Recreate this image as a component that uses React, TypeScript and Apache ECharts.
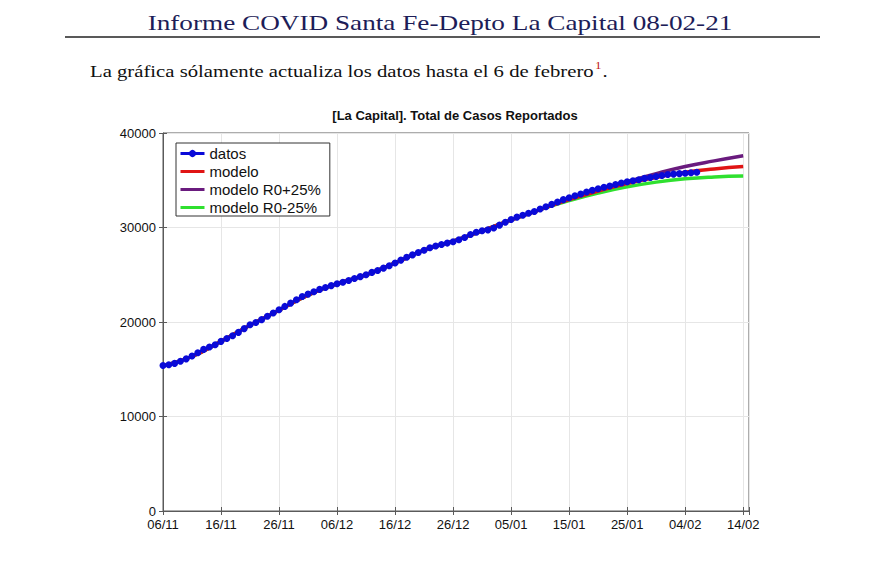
import React, { useEffect, useRef } from 'react';
import * as echarts from 'echarts';

const headerTitle = 'Informe COVID Santa Fe-Depto La Capital 08-02-21';
const subtitleText = 'La gráfica sólamente actualiza los datos hasta el 6 de febrero';
const chartTitle = '[La Capital]. Total de Casos Reportados';

const xTickLabels = ['06/11', '16/11', '26/11', '06/12', '16/12', '26/12', '05/01', '15/01', '25/01', '04/02', '14/02'];
const seriesNames = ['datos', 'modelo', 'modelo R0+25%', 'modelo R0-25%'];

// daily reported totals, day 0 = 06/11
const datos = [
  15400, 15480, 15620, 15850, 16100, 16400, 16750, 17100, 17350, 17600,
  17950, 18250, 18550, 18900, 19300, 19700, 19950, 20250, 20600, 20950,
  21300, 21650, 22000, 22350, 22700, 22950, 23200, 23450, 23650, 23850,
  24050, 24200, 24400, 24600, 24800, 25000, 25250, 25450, 25700, 25950,
  26250, 26550, 26850, 27100, 27350, 27600, 27850, 28050, 28200, 28350,
  28500, 28700, 28950, 29250, 29500, 29650, 29750, 29950, 30250, 30550,
  30850, 31100, 31300, 31500, 31700, 31950, 32200, 32450, 32700, 32950,
  33150, 33350, 33550, 33750, 33950, 34100, 34250, 34400, 34550, 34700,
  34850, 34950, 35050, 35200, 35300, 35400, 35500, 35600, 35650, 35700,
  35750, 35800, 35850,
];

const modelDays = [0, 5, 10, 15, 20, 25, 30, 35, 40, 45, 50, 55, 60, 65, 70, 75, 80, 85, 90, 95, 100];
const modelo = [15350, 16350, 17950, 19650, 21250, 22850, 24050, 25000, 26250, 27600, 28550, 29650, 30800, 31900, 32950, 33850, 34650, 35300, 35850, 36200, 36450];
const modeloPlus = [15350, 16350, 17950, 19650, 21250, 22850, 24050, 25000, 26250, 27600, 28550, 29650, 30800, 31900, 33000, 33950, 34850, 35700, 36450, 37050, 37600];
const modeloMinus = [15350, 16350, 17950, 19650, 21250, 22850, 24050, 25000, 26250, 27600, 28550, 29650, 30800, 31900, 32850, 33650, 34300, 34800, 35150, 35350, 35450];

function measure(text: string, font: string): number {
  const c = document.createElement('canvas');
  const ctx = c.getContext('2d');
  if (!ctx) return text.length * 8;
  ctx.font = font;
  return ctx.measureText(text).width;
}

export default function App() {
  const ref = useRef<HTMLDivElement>(null);

  useEffect(() => {
    if (!ref.current) return;
    const chart = echarts.init(ref.current, undefined, { renderer: 'svg' });

    const serif = '"Liberation Serif", "Times New Roman", serif';
    const sans = '"Liberation Sans", Arial, Helvetica, sans-serif';

    const titleFont = `21px ${serif}`;
    const titleW = measure(headerTitle, titleFont);
    const titleScale = 585 / titleW;

    const subFont = `16px ${serif}`;
    const subW = measure(subtitleText, subFont);
    const supW = measure('1', `10px ${serif}`);
    const dotW = measure('.', subFont);
    const subTarget = 517;
    const subScale = subTarget / (subW + supW + dotW + 1);

    const subX = 90;
    const supX = subX + subW * subScale + 1;
    const dotX = supX + supW * subScale + 1;

    const toPairs = (days: number[], vals: number[]) => days.map((d, i) => [d, vals[i]]);

    const axisColor = '#5a5a5a';
    const gridColor = '#e6e6e6';

    chart.setOption({
      animation: false,
      backgroundColor: '#ffffff',
      textStyle: { fontFamily: sans },
      graphic: [
        {
          type: 'text',
          x: 440,
          y: 23,
          scaleX: titleScale,
          style: {
            text: headerTitle,
            font: titleFont,
            fill: '#1d1d58',
            align: 'center',
            verticalAlign: 'middle',
          },
        },
        {
          type: 'line',
          shape: { x1: 65, y1: 37, x2: 820, y2: 37 },
          style: { stroke: '#222', lineWidth: 1.5 },
        },
        {
          type: 'text',
          x: subX,
          y: 72,
          scaleX: subScale,
          style: { text: subtitleText, font: subFont, fill: '#111', align: 'left', verticalAlign: 'middle' },
        },
        {
          type: 'text',
          x: supX,
          y: 66,
          scaleX: subScale,
          style: { text: '1', font: `10px ${serif}`, fill: '#c01818', align: 'left', verticalAlign: 'middle' },
        },
        {
          type: 'text',
          x: dotX,
          y: 72,
          scaleX: subScale,
          style: { text: '.', font: subFont, fill: '#111', align: 'left', verticalAlign: 'middle' },
        },
        {
          type: 'text',
          x: 455,
          y: 115,
          style: {
            text: chartTitle,
            font: `bold 13px ${sans}`,
            fill: '#111',
            align: 'center',
            verticalAlign: 'middle',
          },
        },
      ],
      legend: {
        orient: 'vertical',
        left: 176,
        top: 143,
        data: [
          { name: seriesNames[0] },
          { name: seriesNames[1], itemStyle: { opacity: 0 } },
          { name: seriesNames[2], itemStyle: { opacity: 0 } },
          { name: seriesNames[3], itemStyle: { opacity: 0 } },
        ],
        itemWidth: 24,
        itemHeight: 9,
        itemGap: 3,
        padding: [3, 9, 1, 3],
        backgroundColor: '#ffffff',
        borderColor: '#333',
        borderWidth: 1,
        borderRadius: 0,
        lineStyle: { width: 3 },
        textStyle: { fontFamily: sans, fontSize: 15, color: '#111' },
      },
      grid: {
        left: 163,
        right: 121,
        top: 133,
        bottom: 69,
        show: true,
        borderColor: axisColor,
        borderWidth: 1,
        backgroundColor: 'transparent',
      },
      xAxis: [
        {
          type: 'value',
          min: 0,
          max: 101,
          interval: 10,
          axisLine: { show: true, onZero: false, lineStyle: { color: axisColor } },
          axisTick: { show: true, inside: true, length: 4, lineStyle: { color: axisColor } },
          axisLabel: {
            formatter: (v: number) => (v % 10 === 0 && xTickLabels[v / 10] ? xTickLabels[v / 10] : ''),
            color: '#111',
            fontSize: 13,
            fontFamily: sans,
            margin: 7,
          },
          splitLine: { show: true, lineStyle: { color: gridColor, width: 1 } },
        },
        {
          type: 'value',
          position: 'top',
          min: 0,
          max: 101,
          interval: 10,
          axisLine: { show: false },
          axisTick: { show: true, inside: true, length: 4, lineStyle: { color: axisColor } },
          axisLabel: { show: false },
          splitLine: { show: false },
        },
      ],
      yAxis: [
        {
          type: 'value',
          min: 0,
          max: 40000,
          interval: 10000,
          axisLine: { show: true, onZero: false, lineStyle: { color: axisColor } },
          axisTick: { show: true, inside: true, length: 4, lineStyle: { color: axisColor } },
          axisLabel: { color: '#111', fontSize: 13, fontFamily: sans, margin: 7, formatter: (v: number) => String(v) },
          splitLine: { show: true, lineStyle: { color: gridColor, width: 1 } },
        },
        {
          type: 'value',
          position: 'right',
          min: 0,
          max: 40000,
          interval: 10000,
          axisLine: { show: false },
          axisTick: { show: true, inside: true, length: 4, lineStyle: { color: axisColor } },
          axisLabel: { show: false },
          splitLine: { show: false },
        },
      ],
      series: [
        {
          name: seriesNames[2],
          type: 'line',
          data: toPairs(modelDays, modeloPlus),
          smooth: true,
          symbol: 'none',
          lineStyle: { color: '#6a1b7e', width: 3.5 },
          itemStyle: { color: '#6a1b7e' },
          z: 2,
        },
        {
          name: seriesNames[3],
          type: 'line',
          data: toPairs(modelDays, modeloMinus),
          smooth: true,
          symbol: 'none',
          lineStyle: { color: '#2fe02f', width: 3.5 },
          itemStyle: { color: '#2fe02f' },
          z: 3,
        },
        {
          name: seriesNames[1],
          type: 'line',
          data: toPairs(modelDays, modelo),
          smooth: true,
          symbol: 'none',
          lineStyle: { color: '#e01414', width: 3.5 },
          itemStyle: { color: '#e01414' },
          z: 4,
        },
        {
          name: seriesNames[0],
          type: 'line',
          data: datos.map((v, i) => [i, v]),
          symbol: 'circle',
          symbolSize: 7,
          showSymbol: true,
          lineStyle: { color: '#0a0ad8', width: 2 },
          itemStyle: { color: '#0a0ad8' },
          z: 5,
        },
      ],
    });

    return () => {
      chart.dispose();
    };
  }, []);

  return (
    <div
      ref={ref}
      style={{ position: 'fixed', left: 0, top: 0, width: 870, height: 580, background: '#fff' }}
    />
  );
}
